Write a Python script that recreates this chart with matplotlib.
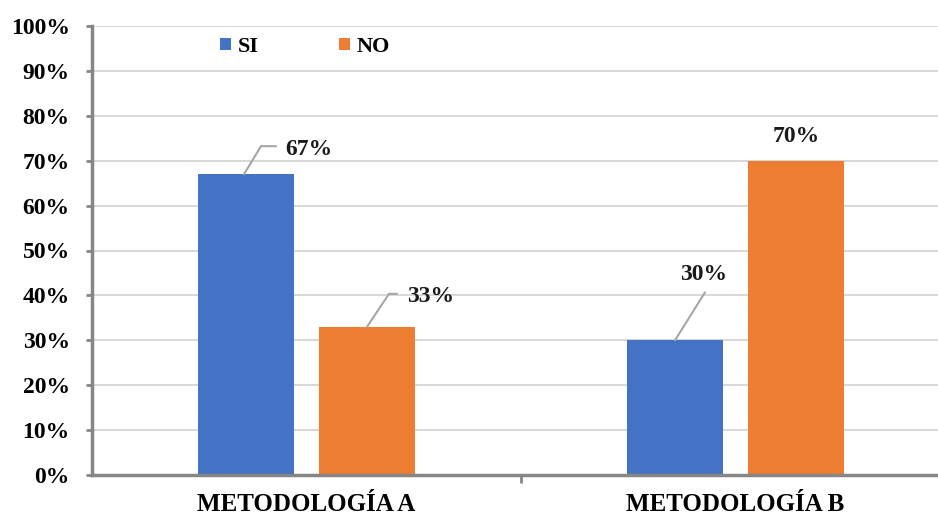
import matplotlib
matplotlib.use("Agg")
import matplotlib.pyplot as plt
import matplotlib.transforms as mtransforms
import numpy as np

# Data
categories = ["METODOLOGÍA A", "METODOLOGÍA B"]
series_names = ["SI", "NO"]
si_values = [67, 30]
no_values = [33, 70]
y_ticks = [0, 10, 20, 30, 40, 50, 60, 70, 80, 90, 100]

BLUE = "#4472C4"
ORANGE = "#ED7D31"
SPINE = "#868686"
GRID = "#d4d4d4"
FONT = ["Liberation Serif", "DejaVu Serif"]

plt.rcParams["font.family"] = FONT
plt.rcParams["font.weight"] = "bold"

DPI = 100
fig = plt.figure(figsize=(9.38, 5.16), dpi=DPI)
ax = fig.add_axes([92 / 938, 1 - 475 / 516, (950 - 92) / 938, (475 - 26) / 516])

x = np.arange(len(categories))
width = 0.224
offset = 0.141

bars_si = ax.bar(x - offset, si_values, width, color=BLUE, label=series_names[0], zorder=3)
bars_no = ax.bar(x + offset, no_values, width, color=ORANGE, label=series_names[1], zorder=3)

ax.set_xlim(-0.5, 1.5)
ax.set_ylim(0, 100)
ax.set_yticks(y_ticks)
ax.set_yticklabels([f"{v}%" for v in y_ticks])
ax.yaxis.grid(True, color=GRID, linewidth=1.3, zorder=0)
ax.set_axisbelow(True)

# category labels, with a separator tick between the groups
ax.set_xticks(x)
ax.set_xticklabels(categories)
ax.set_xticks([0.5], minor=True)
ax.tick_params(axis="x", which="major", length=0, pad=13, labelsize=18)
ax.tick_params(axis="x", which="minor", length=6, width=2, color=SPINE, direction="out")
ax.tick_params(axis="y", length=4, width=2, color=SPINE, pad=12, labelsize=17)

for s in ("top", "right"):
    ax.spines[s].set_visible(False)
for s in ("left", "bottom"):
    ax.spines[s].set_color(SPINE)
    ax.spines[s].set_linewidth(2.5)
ax.spines["bottom"].set_zorder(4)

for lbl in ax.get_xticklabels() + ax.get_yticklabels():
    lbl.set_fontweight("bold")

leg = ax.legend(loc="upper left", bbox_to_anchor=(0.149, 0.976), ncol=2, frameon=False,
                handlelength=0.5, handleheight=0.5, handletextpad=0.3,
                borderpad=0, borderaxespad=0, columnspacing=3.6,
                prop={"weight": "bold", "size": 16})


def offset_tf(dx, dy):
    return mtransforms.offset_copy(ax.transData, fig=fig, x=dx, y=dy, units="dots")


def label_with_leader(xv, yv, text, text_off, path):
    """Value label placed at a pixel offset from the bar top, joined by a leader polyline."""
    for (x0, y0), (x1, y1) in zip(path[:-1], path[1:]):
        ax.annotate("", xy=(xv, yv), xycoords=offset_tf(x1, y1),
                    xytext=(xv, yv), textcoords=offset_tf(x0, y0),
                    arrowprops=dict(arrowstyle="-", color="#a6a6a6", lw=1.5,
                                    shrinkA=0, shrinkB=0), zorder=4)
    ax.annotate(text, xy=(xv, yv), xytext=text_off, textcoords="offset pixels",
                ha="center", va="center", fontsize=17, fontweight="bold", color="#1a1a1a")


xa_si, xb_si = x - offset
xa_no, xb_no = x + offset
label_with_leader(xa_si, si_values[0], f"{si_values[0]}%", (63, 25), [(-2, 0), (15, 28), (30, 28)])
label_with_leader(xa_no, no_values[0], f"{no_values[0]}%", (64, 30), [(0, 0), (22, 33), (30, 33)])
label_with_leader(xb_si, si_values[1], f"{si_values[1]}%", (29, 66), [(0, 0), (30, 48)])
label_with_leader(xb_no, no_values[1], f"{no_values[1]}%", (0, 24), [])

fig.savefig("out.png", dpi=DPI)
